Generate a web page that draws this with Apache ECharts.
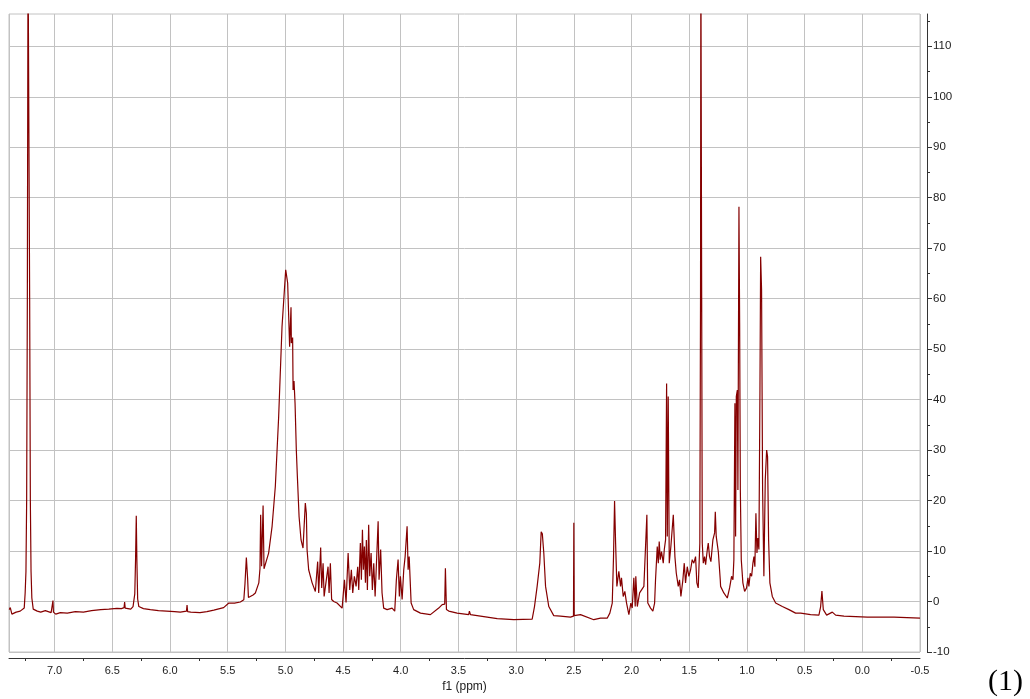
<!DOCTYPE html>
<html>
<head>
<meta charset="utf-8">
<script src="https://cdn.jsdelivr.net/npm/echarts@6/dist/echarts.min.js"></script>
<style>
html,body{margin:0;padding:0;background:#fff;}
#chart{width:1030px;height:699px;}
</style>
</head>
<body>
<div id="chart"></div>
<script>
// Chemical shift (ppm) and intensity
const ppm = [
7.393,7.384,7.370,7.333,7.298,7.263,7.255,7.248,7.242,7.236,7.230,7.222,7.216,7.210,7.204,7.197,7.185,
7.150,7.120,7.080,7.030,7.018,7.014,7.010,6.990,6.950,6.890,6.820,6.750,6.680,6.600,6.530,6.460,6.420,
6.398,6.393,6.388,6.340,6.320,6.305,6.298,6.292,6.287,6.280,6.270,6.230,6.170,6.100,6.030,5.960,5.910,
5.857,5.852,5.847,5.820,5.740,5.680,5.620,5.535,5.490,5.440,5.390,5.360,5.350,5.338,5.327,5.320,5.280,
5.260,5.230,5.220,5.214,5.206,5.193,5.185,5.176,5.145,5.115,5.087,5.058,5.029,4.997,4.980,4.963,4.951,
4.948,4.937,4.933,4.925,4.916,4.905,4.896,4.881,4.864,4.847,4.827,4.818,4.812,4.798,4.768,4.740,4.720,
4.711,4.694,4.685,4.673,4.664,4.630,4.621,4.610,4.599,4.581,4.552,4.508,4.488,4.474,4.456,4.442,4.428,
4.416,4.402,4.387,4.373,4.364,4.350,4.341,4.332,4.324,4.315,4.306,4.298,4.289,4.278,4.269,4.257,4.246,
4.234,4.222,4.196,4.188,4.174,4.162,4.148,4.118,4.075,4.052,4.038,4.023,4.012,4.003,3.988,3.974,3.962,
3.945,3.936,3.927,3.910,3.888,3.829,3.743,3.671,3.641,3.619,3.613,3.604,3.584,3.511,3.411,3.405,3.396,
3.309,3.164,3.020,2.861,2.841,2.818,2.795,2.783,2.773,2.760,2.752,2.745,2.717,2.674,2.616,2.529,2.503,
2.500,2.497,2.442,2.327,2.269,2.211,2.188,2.167,2.156,2.147,2.138,2.127,2.110,2.095,2.087,2.072,2.058,
2.043,2.023,2.006,1.994,1.980,1.968,1.963,1.950,1.930,1.913,1.893,1.879,1.867,1.859,1.835,1.815,1.800,
1.792,1.777,1.768,1.760,1.751,1.740,1.725,1.716,1.705,1.696,1.690,1.682,1.673,1.659,1.638,1.624,1.612,
1.595,1.584,1.572,1.555,1.543,1.532,1.517,1.503,1.488,1.474,1.460,1.445,1.434,1.422,1.408,1.402,1.399,
1.395,1.392,1.387,1.378,1.367,1.358,1.343,1.335,1.324,1.312,1.295,1.280,1.274,1.266,1.248,1.231,1.228,
1.200,1.170,1.150,1.133,1.121,1.113,1.104,1.098,1.092,1.083,1.078,1.069,1.063,1.057,1.049,1.035,1.020,
1.003,0.991,0.983,0.971,0.959,0.948,0.939,0.931,0.922,0.913,0.905,0.896,0.887,0.881,0.873,0.864,0.853,
0.841,0.829,0.821,0.812,0.801,0.780,0.751,0.693,0.636,0.578,0.534,0.448,0.376,0.361,0.350,0.338,0.309,
0.260,0.231,0.159,-0.044,-0.275,-0.500
];
const intensity = [
-1.6,-1.2,-2.5,-2.1,-1.9,-1.3,1.7,6,20,60,130,130,60,20,6,0.7,-1.5,
-1.9,-2.1,-1.8,-2.2,-2.0,0.2,-2.1,-2.5,-2.2,-2.3,-2.0,-2.1,-1.8,-1.6,-1.5,-1.35,-1.4,
-1.2,-0.1,-1.3,-1.5,-1.0,1.5,8.5,17,8.5,0.5,-1.0,-1.4,-1.6,-1.8,-1.9,-2.0,-2.1,
-1.9,-0.7,-2.0,-2.1,-2.2,-2.0,-1.7,-1.2,-0.3,-0.3,-0.1,0.35,3.5,8.7,4.5,0.8,1.3,
1.7,3.7,6.5,17.2,7.0,19.0,6.5,6.6,9.6,14.9,22.8,36.6,54.4,65.7,63.1,50.5,58.3,
51.2,52.3,41.9,43.7,39.3,30.0,24.8,16.8,12.2,10.6,19.5,17.5,10.3,6.3,3.7,2.0,7.9,
1.7,10.7,2.7,7.6,1.0,6.9,1.7,7.6,0.4,0.0,-0.3,-1.3,4.3,-0.2,9.6,2.3,6.3,
1.7,5.0,3.0,6.9,2.3,11.6,4.3,14.2,6.3,10.9,3.7,12.2,2.3,15.2,5.0,9.6,2.3,
7.6,1.0,15.9,4.3,10.3,1.7,-1.3,-1.6,-1.3,-1.9,4.3,8.3,1.0,5.0,0.4,6.3,8.9,
14.9,6.3,8.9,-0.3,-1.6,-2.3,-2.6,-1.3,-0.6,-0.5,6.6,-1.6,-1.9,-2.3,-2.6,-1.9,-2.6,
-2.9,-3.4,-3.6,-3.5,-1.0,3.0,7.6,13.8,13.4,9.5,6.0,3.0,-1.0,-2.8,-2.9,-3.1,-2.9,
15.6,-2.8,-2.6,-3.6,-3.3,-3.3,-2.3,-0.3,8.9,19.9,11.6,3.0,6.0,3.0,4.7,1.0,2.0,
-0.3,-2.6,-0.3,-1.3,4.7,-1.0,5.0,-1.0,1.7,2.3,3.0,3.3,17.2,-0.3,-1.3,-1.9,-0.3,
4.3,10.9,7.6,11.9,8.3,9.9,7.6,10.3,12.2,43.2,12.9,40.6,7.6,10.9,17.2,8.9,5.6,
3.0,4.3,1.0,4.3,7.6,3.7,6.9,5.0,6.3,8.3,7.6,8.9,3.7,2.7,11.6,60,130,
130,60,11.6,7.6,8.9,7.3,10.3,11.6,8.9,7.9,12.2,13.6,17.8,12.9,9.9,4.3,3.0,
1.7,0.7,2.7,5.0,4.3,8.3,39.3,12.9,40.6,41.9,22.1,78.2,55.1,22.1,8.3,3.7,2.0,
2.7,4.7,3.0,5.6,5.0,7.6,8.9,6.9,17.5,9.6,12.6,10.3,41.9,68.3,61.7,22.1,5.0,
24.1,30.0,28.7,12.2,3.7,1.0,-0.3,-1.0,-1.6,-2.3,-2.3,-2.6,-2.7,-1.0,2.1,-1.6,-2.7,
-2.1,-2.7,-2.9,-3.1,-3.1,-3.3
];
const xMajorTicks = [7.0,6.5,6.0,5.5,5.0,4.5,4.0,3.5,3.0,2.5,2.0,1.5,1.0,0.5,0.0,-0.5];
const xMinorTicks = [7.25,6.75,6.25,5.75,5.25,4.75,4.25,3.75,3.25,2.75,2.25,1.75,1.25,0.75,0.25,-0.25];
const yMajorTicks = [-10,0,10,20,30,40,50,60,70,80,90,100,110];
const yMinorTicks = [-5,5,15,25,35,45,55,65,75,85,95,105,115];
const xTitle = 'f1 (ppm)';
const figLabel = '(1)';

const data = ppm.map((p, i) => [p, intensity[i]]);
const AXC = '#333';
const GRIDC = '#c2c2c2';
const FONT = "'Liberation Sans Narrow', 'Liberation Sans', sans-serif";

const chart = echarts.init(document.getElementById('chart'), null, {renderer: 'canvas'});
chart.setOption({
  animation: false,
  backgroundColor: '#fff',
  grid: {left: 9, right: 110, top: 14, bottom: 47, show: true, borderColor: GRIDC, borderWidth: 1},
  xAxis: [{
    type: 'value', inverse: true, min: -0.5, max: 7.395, interval: 0.5,
    position: 'bottom', offset: 6,
    axisLine: {show: true, onZero: false, lineStyle: {color: AXC, width: 1}},
    axisTick: {show: false},
    axisLabel: {
      color: '#222', fontSize: 11, fontFamily: FONT, margin: 7,
      formatter: v => (xMajorTicks.some(t => Math.abs(t - v) < 1e-6) ? v.toFixed(1) : '')
    },
    splitLine: {show: true, lineStyle: {color: GRIDC, width: 1}},
    name: xTitle, nameLocation: 'middle', nameGap: 18,
    nameTextStyle: {color: '#222', fontSize: 12, fontFamily: FONT}
  }, {
    type: 'value', inverse: true, min: -0.5, max: 7.395,
    position: 'bottom', offset: 6,
    axisLine: {show: false, onZero: false},
    axisTick: {show: true, customValues: xMinorTicks, length: 3, lineStyle: {color: AXC}},
    axisLabel: {show: false},
    splitLine: {show: false}
  }],
  yAxis: [{
    type: 'value', min: -10, max: 116.4, interval: 10,
    position: 'right', offset: 7,
    axisLine: {show: true, onZero: false, lineStyle: {color: AXC, width: 1}},
    axisTick: {show: true, customValues: yMajorTicks, length: 5, lineStyle: {color: AXC}},
    axisLabel: {
      color: '#222', fontSize: 11.5, fontFamily: FONT, margin: 6,
      customValues: yMajorTicks, padding: [0, 0, 6, 0],
      formatter: v => String(Math.round(v))
    },
    splitLine: {show: true, lineStyle: {color: GRIDC, width: 1}}
  }, {
    type: 'value', min: -10, max: 116.4,
    position: 'right', offset: 7,
    axisLine: {show: false, onZero: false},
    axisTick: {show: true, customValues: yMinorTicks, length: 3, lineStyle: {color: AXC}},
    axisLabel: {show: false},
    splitLine: {show: false}
  }],
  series: [{
    type: 'line', data: data, xAxisIndex: 0, yAxisIndex: 0,
    showSymbol: false, symbol: 'none', clip: true,
    lineStyle: {color: '#850000', width: 1.2},
    emphasis: {disabled: true}
  }],
  graphic: [{
    type: 'text', left: 988, top: 667,
    style: {text: figLabel, font: "30px 'Liberation Serif', 'Times New Roman', serif", fill: '#000'}
  }]
});
</script>
</body>
</html>
